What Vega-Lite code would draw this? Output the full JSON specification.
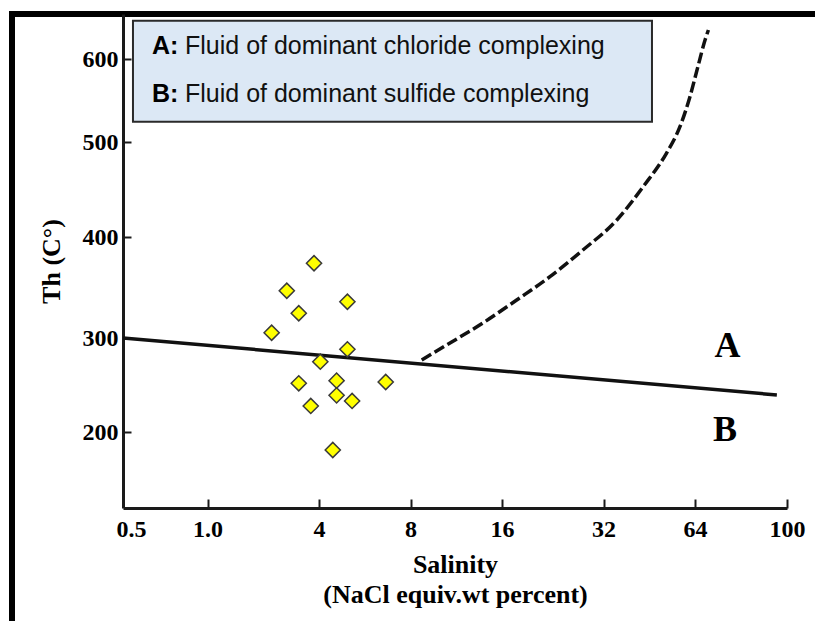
{
  "$schema": "https://vega.github.io/schema/vega-lite/v6.json",
  "width": 803,
  "height": 607,
  "autosize": {"type": "none"},
  "padding": {"left": 12, "top": 14, "right": 0, "bottom": 0},
  "background": "white",
  "config": {"view": {"stroke": "black", "strokeWidth": 6, "strokeDash": [803, 1410, 607]}},
  "datasets": {
    "samples": [
      {"s": 3.76, "t": 374},
      {"s": 2.68, "t": 346.8},
      {"s": 4.96, "t": 335.9},
      {"s": 3.11, "t": 324.5},
      {"s": 2.22, "t": 305.2},
      {"s": 4.96, "t": 288},
      {"s": 4.04, "t": 274.8},
      {"s": 3.11, "t": 251.8},
      {"s": 4.57, "t": 254.6},
      {"s": 6.63, "t": 253.2},
      {"s": 4.57, "t": 239},
      {"s": 5.14, "t": 233},
      {"s": 3.61, "t": 227.7},
      {"s": 4.44, "t": 180.8}
    ],
    "boundary": [
      {"s": 0.45, "t": 300},
      {"s": 95.2, "t": 239.4}
    ],
    "curve": [
      {"s": 8.71, "t": 276.6},
      {"s": 10.79, "t": 294.7},
      {"s": 13.85, "t": 314.9},
      {"s": 17.69, "t": 337.6},
      {"s": 22.2, "t": 360.7},
      {"s": 27.8, "t": 387.1},
      {"s": 35.4, "t": 417.9},
      {"s": 43.2, "t": 452.9},
      {"s": 51.6, "t": 488.4},
      {"s": 57.1, "t": 518.4},
      {"s": 61.6, "t": 554.6},
      {"s": 64.9, "t": 590.7},
      {"s": 67.2, "t": 622.8},
      {"s": 68.3, "t": 634.8}
    ],
    "box": [{"s": 0.509, "s2": 46.2, "t": 524.5, "t2": 646}],
    "notes": [
      {"key": "A:", "desc": "Fluid of dominant chloride complexing", "s": 0.605, "t": 606},
      {"key": "B:", "desc": "Fluid of dominant sulfide complexing", "s": 0.605, "t": 547.8}
    ],
    "regions": [
      {"label": "A", "s": 74.9, "t": 280},
      {"label": "B", "s": 74.0, "t": 190}
    ]
  },
  "layer": [
    {
      "data": {"name": "box"},
      "mark": {"type": "rect", "fill": "#dce8f5", "stroke": "#2a2a2a", "strokeWidth": 2},
      "encoding": {
        "x": {"field": "s", "type": "quantitative"},
        "x2": {"field": "s2"},
        "y": {"field": "t", "type": "quantitative"},
        "y2": {"field": "t2"}
      }
    },
    {
      "data": {"name": "boundary"},
      "mark": {"type": "line", "color": "#111111", "strokeWidth": 3.5},
      "encoding": {
        "x": {"field": "s", "type": "quantitative"},
        "y": {"field": "t", "type": "quantitative"}
      }
    },
    {
      "data": {"name": "curve"},
      "mark": {"type": "line", "color": "#111111", "strokeWidth": 3.5, "strokeDash": [11, 4], "interpolate": "monotone"},
      "encoding": {
        "x": {"field": "s", "type": "quantitative"},
        "y": {"field": "t", "type": "quantitative"}
      }
    },
    {
      "data": {"name": "samples"},
      "mark": {"type": "point", "shape": "diamond", "filled": true, "fill": "#ffff00", "stroke": "#3a3a3a", "strokeWidth": 1.5, "size": 230, "opacity": 1},
      "encoding": {
        "x": {
          "field": "s",
          "type": "quantitative",
          "scale": {"type": "log", "domain": [0.45, 0.5, 1, 4, 8, 16, 32, 64, 100], "range": [111, 119, 195.5, 307, 398.5, 490, 591.5, 683, 775], "nice": false, "zero": false},
          "axis": {
            "orient": "bottom",
            "offset": -113,
            "values": [0.5, 1, 4, 8, 16, 32, 64, 100],
            "labelExpr": "datum.value == 1 ? '1.0' : '' + datum.value",
            "grid": false,
            "domainColor": "#1a1a1a",
            "domainWidth": 3,
            "tickSize": -9,
            "tickWidth": 2,
            "tickColor": {"condition": {"test": "datum.value == 0.5", "value": "transparent"}, "value": "#1a1a1a"},
            "labelFont": "Liberation Serif",
            "labelFontWeight": "bold",
            "labelFontSize": 24,
            "labelColor": "black",
            "labelPadding": 18,
            "labelFlush": false,
            "labelOverlap": false,
            "labelBound": false,
            "title": ["Salinity", "(NaCl equiv.wt percent)"],
            "titleFont": "Liberation Serif",
            "titleFontWeight": "bold",
            "titleFontSize": 26,
            "titleLineHeight": 30,
            "titleColor": "black",
            "titlePadding": 10
          }
        },
        "y": {
          "field": "t",
          "type": "quantitative",
          "scale": {"type": "linear", "domain": [119, 200, 300, 400, 500, 600, 654], "range": [494, 418, 324, 223, 128, 45, 0], "nice": false, "zero": false},
          "axis": {
            "orient": "left",
            "offset": -111,
            "values": [200, 300, 400, 500, 600],
            "grid": false,
            "domainColor": "#1a1a1a",
            "domainWidth": 3,
            "tickSize": -8,
            "tickWidth": 2,
            "tickColor": "#1a1a1a",
            "labelFont": "Liberation Serif",
            "labelFontWeight": "bold",
            "labelFontSize": 24,
            "labelColor": "black",
            "labelPadding": 13,
            "labelFlush": false,
            "labelOverlap": false,
            "labelBound": false,
            "title": "Th (C°)",
            "titleFont": "Liberation Serif",
            "titleFontWeight": "bold",
            "titleFontSize": 26,
            "titleColor": "black",
            "titlePadding": 18
          }
        }
      }
    },
    {
      "data": {"name": "notes"},
      "mark": {"type": "text", "font": "Liberation Sans", "fontWeight": "bold", "fontSize": 25, "align": "left", "baseline": "alphabetic", "color": "black"},
      "encoding": {
        "x": {"field": "s", "type": "quantitative"},
        "y": {"field": "t", "type": "quantitative"},
        "text": {"field": "key"}
      }
    },
    {
      "data": {"name": "notes"},
      "mark": {"type": "text", "font": "Liberation Sans", "fontSize": 25, "align": "left", "baseline": "alphabetic", "dx": 33, "color": "#111111"},
      "encoding": {
        "x": {"field": "s", "type": "quantitative"},
        "y": {"field": "t", "type": "quantitative"},
        "text": {"field": "desc"}
      }
    },
    {
      "data": {"name": "regions"},
      "mark": {"type": "text", "font": "Liberation Serif", "fontWeight": "bold", "fontSize": 36, "align": "center", "baseline": "alphabetic", "color": "black"},
      "encoding": {
        "x": {"field": "s", "type": "quantitative"},
        "y": {"field": "t", "type": "quantitative"},
        "text": {"field": "label"}
      }
    }
  ]
}
